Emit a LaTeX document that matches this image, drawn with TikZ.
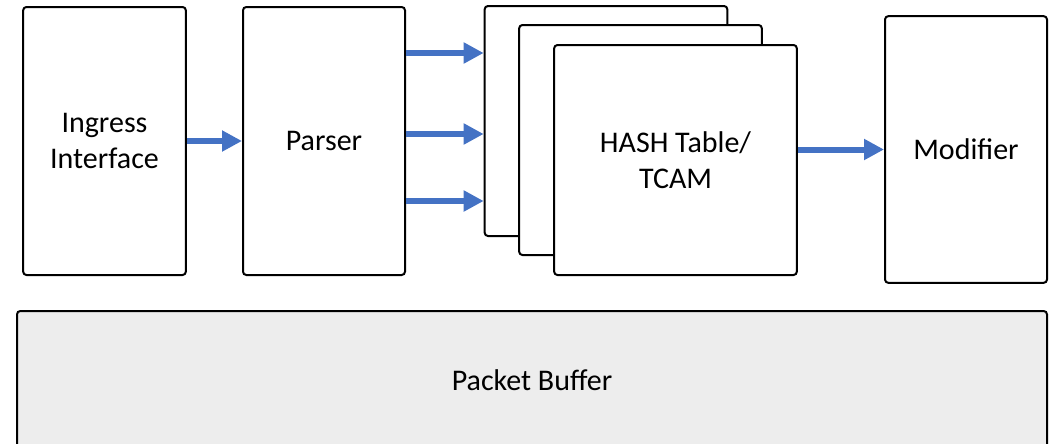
\documentclass[tikz,border=0pt]{standalone}
\usepackage{fontspec}
\setmainfont{Carlito}
\usetikzlibrary{arrows.meta}
\definecolor{flowblue}{HTML}{4472C4}
\definecolor{buffergray}{HTML}{EDEDED}
\begin{document}
\begin{tikzpicture}[x=0.75pt, y=-0.75pt,
    blk/.style={draw, line width=1.5pt, rounded corners=2.5pt, fill=white, align=center, inner sep=0pt, font=\fontsize{22.5}{27}\selectfont},
    tbl/.style={blk, minimum width=182pt, minimum height=172.5pt},
    flow/.style={flowblue, line width=4.5pt, -{Triangle[length=15pt, width=15pt]}} ]
	\clip (0,0) rectangle (1050,443);
	\node[blk, minimum width=122pt, minimum height=201pt] (ingress) at (104.5,141) {Ingress\\Interface};
	\node[blk, minimum width=121.5pt, minimum height=201pt] (parser) at (324,141) {Parser};
	\node[tbl] (back) at (606,121) {};
	\node[tbl] (middle) at (640.5,140) {};
	\node[tbl] (front) at (675.5,160) {HASH Table/\\TCAM};
	\node[blk, minimum width=121.5pt, minimum height=200pt] (modifier) at (966,149.5) {Modifier};
	\node[blk, fill=buffergray, minimum width=772.5pt, minimum height=103.5pt] (buffer) at (532,380) {Packet Buffer};
	% connectors
	\draw[flow] (ingress.east) -- (parser.west);
	\foreach \y in {53, 134, 201}
		\draw[flow] (parser.east |- 0,\y) -- (back.west |- 0,\y);
	\draw[flow] (front.east |- modifier.west) -- (modifier.west);
\end{tikzpicture}
\end{document}
